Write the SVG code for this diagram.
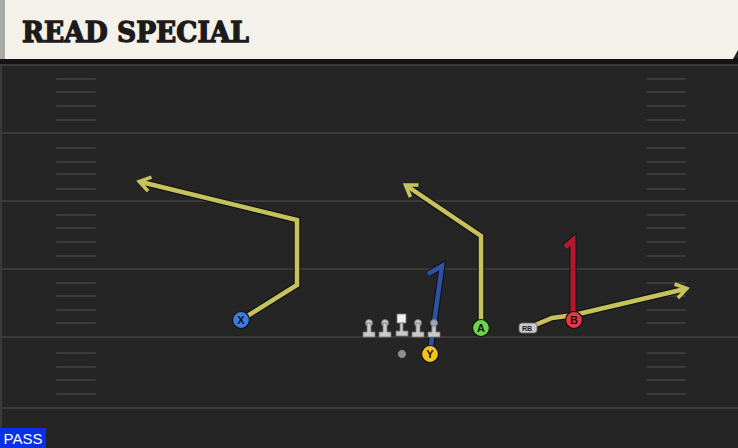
<svg xmlns="http://www.w3.org/2000/svg" width="738" height="448" viewBox="0 0 738 448">
<defs>
<style>
.yl{stroke:#3a3a3a;stroke-width:2}
.hs{stroke:#3b3b3b;stroke-width:2;stroke-linecap:round}
.ro{fill:none;stroke:#151515;stroke-width:7;stroke-linejoin:miter;stroke-linecap:butt}
.y{fill:none;stroke:#c6c35c;stroke-width:4.5;stroke-linejoin:miter}
.b{fill:none;stroke:#2d53a8;stroke-width:4.5;stroke-linejoin:miter}
.r{fill:none;stroke:#b3182f;stroke-width:5;stroke-linejoin:miter}
.pl{stroke:#111;stroke-width:1.2}
.lt{font-family:"Liberation Sans",Arial,sans-serif;font-weight:bold;font-size:11px;fill:#111;text-anchor:middle}
.ol{fill:#c9c9c9;stroke:#777;stroke-width:0.8}
</style>
<marker id="ay" viewBox="0 0 10 10" refX="6" refY="5" markerWidth="4" markerHeight="4" orient="auto" markerUnits="strokeWidth">
<path d="M1,1 L7,5 L1,9" fill="none" stroke="#c6c35c" stroke-width="2"/>
</marker>
</defs>
<rect x="0" y="0" width="738" height="448" fill="#252525"/>
<rect x="0" y="58" width="738" height="6" fill="#141414"/>
<line x1="1" y1="64" x2="1" y2="448" stroke="#3a3a3a" stroke-width="2"/>
<g id="header">
<polygon points="0,0 738,0 738,50 733,59 0,59" fill="#f4f1ea"/>
<rect x="0" y="0" width="5" height="59" fill="#a9aaa6"/>
<text x="22" y="42" font-family="DejaVu Serif,serif" font-weight="bold" font-size="27" textLength="227" lengthAdjust="spacingAndGlyphs" fill="#1b1b1b" stroke="#1b1b1b" stroke-width="1.3">READ SPECIAL</text>
</g>
<g id="field">
<line class="yl" x1="0" y1="65" x2="738" y2="65"/>
<line class="yl" x1="0" y1="133" x2="738" y2="133"/>
<line class="yl" x1="0" y1="201" x2="738" y2="201"/>
<line class="yl" x1="0" y1="269" x2="738" y2="269"/>
<line class="yl" x1="0" y1="337" x2="738" y2="337"/>
<line class="yl" x1="0" y1="408" x2="738" y2="408"/>
<g id="hashes">
<path class="hs" d="M57,79H95M57,92H95M57,106H95M57,120H95M57,148H95M57,162H95M57,174H95M57,189H95M57,215H95M57,228H95M57,242H95M57,256H95M57,283H95M57,296H95M57,310H95M57,323H95M57,353H95M57,367H95M57,380H95M57,394H95"/>
<path class="hs" d="M647,79H685M647,92H685M647,106H685M647,120H685M647,148H685M647,162H685M647,174H685M647,189H685M647,215H685M647,228H685M647,242H685M647,256H685M647,283H685M647,296H685M647,310H685M647,323H685M647,353H685M647,367H685M647,380H685M647,394H685"/>
</g>
</g>
<g id="connectors">
<path class="ro" d="M241,320 L297,285 L297,220 L141,182"/>
<path class="y" d="M241,320 L297,285 L297,220 L141,182" marker-end="url(#ay)"/>
<path class="ro" d="M481,328 L481,236 L407,186"/>
<path class="y" d="M481,328 L481,236 L407,186" marker-end="url(#ay)"/>
<path class="ro" d="M528,328 L552,318 L574,315 L685,289"/>
<path class="y" d="M528,328 L552,318 L574,315 L685,289" marker-end="url(#ay)"/>
<path class="ro" d="M430,352 L442,266 L428,274"/>
<path class="b" d="M430,352 L442,266 L428,274"/>
<path class="ro" d="M573,320 L573,240 L565,247"/>
<path class="r" d="M573,320 L573,240 L565,247"/>
</g>
<g id="line">
<g id="lt1"><circle class="ol" cx="369" cy="323" r="3.5"/><path class="ol" d="M367,323 h4 v9 h4 v5 h-12 v-5 h4z"/></g>
<g id="lt2"><circle class="ol" cx="385" cy="323" r="3.5"/><path class="ol" d="M383,323 h4 v9 h4 v5 h-12 v-5 h4z"/></g>
<g id="c"><rect x="397" y="314" width="9" height="9" fill="#f0f0f0" stroke="#777" stroke-width="0.8"/><path class="ol" d="M400,323 h3 v8 h5 v5 h-12 v-5 h4z"/></g>
<g id="rt1"><circle class="ol" cx="418" cy="323" r="3.5"/><path class="ol" d="M416,323 h4 v9 h4 v5 h-12 v-5 h4z"/></g>
<g id="rt2"><circle cx="434" cy="323" r="3.5" fill="#9aa6c4" stroke="#777" stroke-width="0.8"/><path class="ol" d="M432,326 h4 v6 h4 v5 h-12 v-5 h4z"/></g>
<g id="ball"><circle cx="402" cy="354" r="4.5" fill="#8e8e8e" stroke="#222" stroke-width="1"/></g>
</g>
<g id="X"><circle class="pl" cx="241" cy="320" r="8.5" fill="#3e7be0"/><text class="lt" x="241" y="324">X</text></g>
<g id="Y"><circle class="pl" cx="430" cy="354" r="8.5" fill="#f4c41c"/><text class="lt" x="430" y="358">Y</text></g>
<g id="A"><circle class="pl" cx="481" cy="328" r="8.5" fill="#6cd44a"/><text class="lt" x="481" y="332">A</text></g>
<g id="B"><circle class="pl" cx="574" cy="320" r="8.5" fill="#e53844"/><text class="lt" x="574" y="324">B</text></g>
<g id="RB"><rect x="519" y="323" width="18" height="10" rx="3" fill="#c9c9c9" stroke="#666" stroke-width="0.8"/><text x="527" y="331" font-family="Liberation Sans,Arial,sans-serif" font-weight="bold" font-size="7" fill="#222" text-anchor="middle">RB</text></g>
<g id="pass"><rect x="0" y="428" width="46" height="20" fill="#0a31e6"/><text x="23" y="444" font-family="Liberation Sans,Arial,sans-serif" font-size="15" fill="#fff" text-anchor="middle">PASS</text></g>
</svg>
